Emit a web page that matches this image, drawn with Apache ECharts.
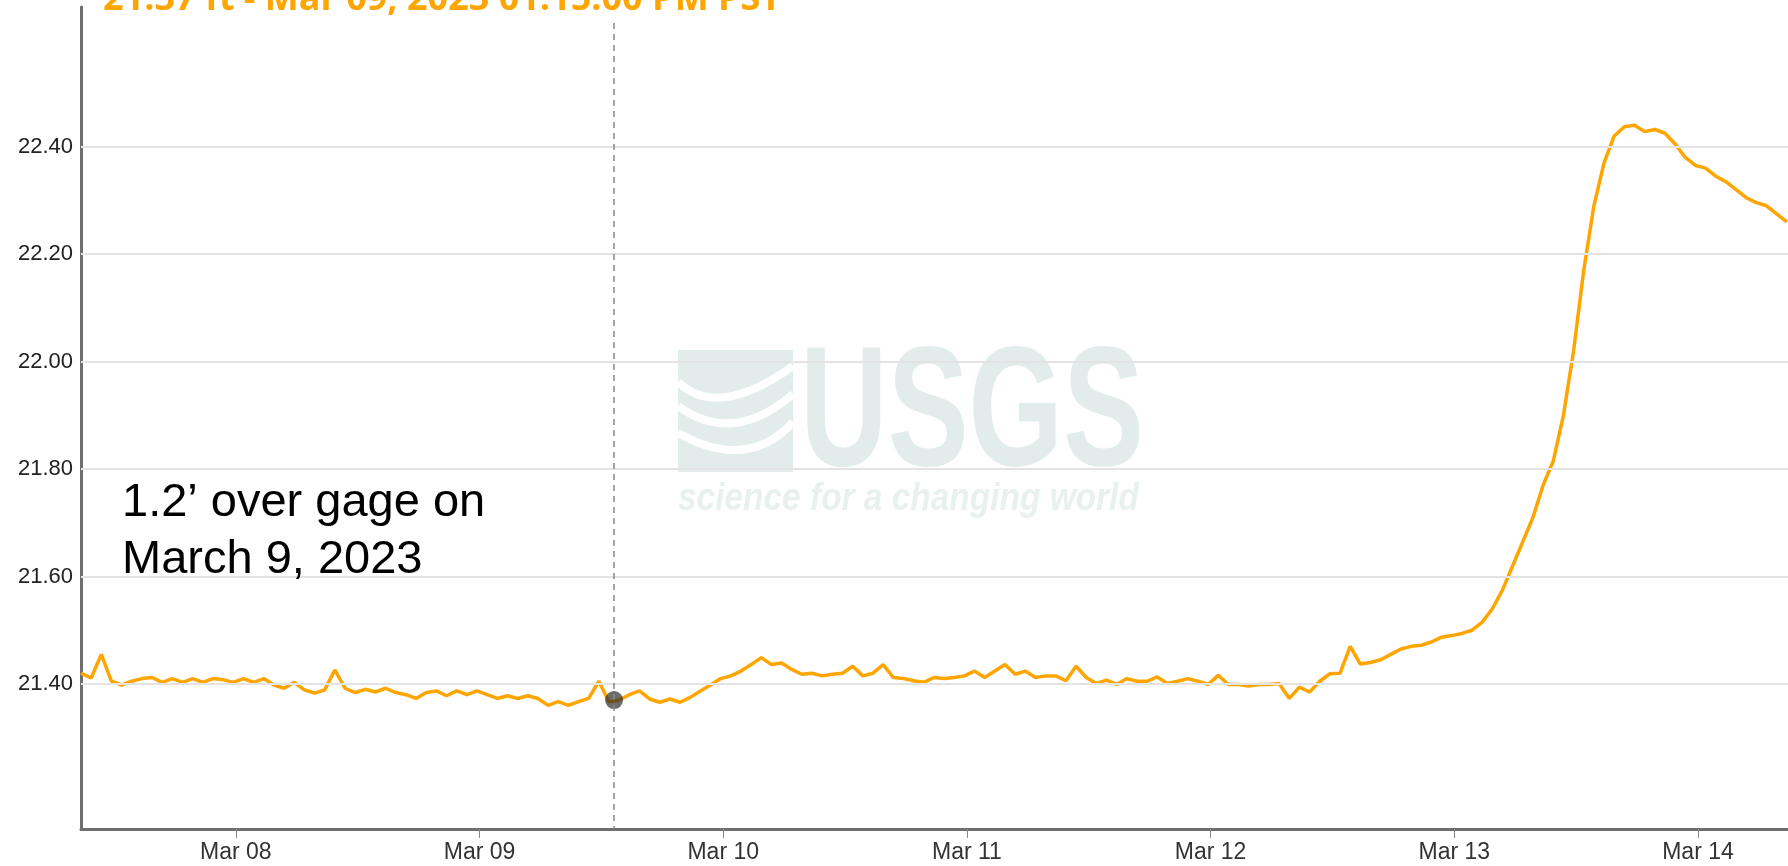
<!DOCTYPE html>
<html>
<head>
<meta charset="utf-8">
<title>Gage height - Mar 2023</title>
<script src="https://cdn.jsdelivr.net/npm/echarts@6/dist/echarts.min.js"></script>
<style>
  html, body { margin: 0; padding: 0; background: #fff; }
  #chart { width: 1788px; height: 866px; }
</style>
</head>
<body>
<div id="chart"></div>
<script>
// readings, one per hour starting Mar 07 2023 08:45 (local)
const startTime = new Date(2023, 2, 7, 8, 45).getTime();
const stepMs = 3600 * 1000;
const stageFt = [
  21.420, 21.411, 21.455, 21.405, 21.398, 21.405, 21.410, 21.412, 21.403, 21.410,
  21.403, 21.410, 21.403, 21.410, 21.408, 21.403, 21.410, 21.403, 21.410, 21.398,
  21.392, 21.403, 21.389, 21.383, 21.389, 21.426, 21.392, 21.384, 21.390, 21.385,
  21.392, 21.384, 21.380, 21.373, 21.384, 21.387, 21.378, 21.387, 21.380, 21.387,
  21.380, 21.373, 21.378, 21.373, 21.378, 21.373, 21.360, 21.367, 21.360, 21.367,
  21.373, 21.405, 21.367, 21.370, 21.380, 21.387, 21.372, 21.366, 21.372, 21.366,
  21.375, 21.387, 21.398, 21.410, 21.415, 21.424, 21.436, 21.449, 21.436, 21.439,
  21.427, 21.418, 21.420, 21.415, 21.418, 21.420, 21.433, 21.415, 21.420, 21.436,
  21.412, 21.410, 21.406, 21.403, 21.412, 21.410, 21.412, 21.415, 21.424, 21.412,
  21.424, 21.436, 21.418, 21.424, 21.412, 21.415, 21.415, 21.406, 21.433, 21.412,
  21.401, 21.407, 21.399, 21.410, 21.405, 21.405, 21.413, 21.401, 21.405, 21.410,
  21.405, 21.399, 21.416, 21.399, 21.399, 21.396, 21.399, 21.399, 21.401, 21.373,
  21.394, 21.385, 21.405, 21.419, 21.420, 21.470, 21.437, 21.440, 21.445, 21.455,
  21.465, 21.470, 21.472, 21.478, 21.487, 21.490, 21.494, 21.500, 21.515, 21.540,
  21.575, 21.620, 21.665, 21.710, 21.770, 21.815, 21.900, 22.020, 22.170, 22.290,
  22.370, 22.420, 22.437, 22.440, 22.428, 22.432, 22.425, 22.405, 22.380, 22.365,
  22.360, 22.345, 22.335, 22.320, 22.305, 22.296, 22.290, 22.275, 22.260
];
const yTicks = [21.4, 21.6, 21.8, 22.0, 22.2, 22.4];
const cursorTime = new Date(2023, 2, 9, 13, 15).getTime();
const cursorValue = 21.37;
const titleText = '21.37 ft - Mar 09, 2023 01:15:00 PM PST';
const noteText = '1.2\u2019 over gage on\nMarch 9, 2023';

const axisStart = startTime;
const axisEnd = new Date(2023, 2, 14, 8, 52).getTime();
const DAY = 24 * 3600 * 1000;

const stageData = stageFt.map((v, i) => [startTime + i * stepMs, v]);

const chart = echarts.init(document.getElementById('chart'));
const wm = '#e2ecea';

const gridLines = yTicks.map(v => ({
  yAxis: v,
  lineStyle: { color: '#e3e3e3', width: 2, type: 'solid' },
  label: {
    show: true,
    position: 'start',
    distance: 8,
    formatter: v.toFixed(2),
    color: '#222',
    fontSize: 22,
    fontFamily: 'Liberation Sans'
  }
}));

const option = {
  animation: false,
  backgroundColor: '#fff',
  grid: { left: 81, right: 0, top: 7, bottom: 37 },
  xAxis: {
    type: 'time',
    min: axisStart,
    max: axisEnd,
    minInterval: DAY,
    maxInterval: DAY,
    axisLine: { lineStyle: { color: '#6e6e6e', width: 3 } },
    axisTick: { show: true, length: 9, lineStyle: { color: '#888', width: 1 } },
    axisLabel: {
      formatter: '{MMM} {dd}',
      color: '#333',
      fontSize: 23,
      fontFamily: 'Liberation Sans',
      margin: 12,
      showMinLabel: false,
      showMaxLabel: false
    },
    splitLine: { show: false }
  },
  yAxis: {
    type: 'value',
    min: 21.13,
    max: 22.66,
    axisLine: { show: true, lineStyle: { color: '#6e6e6e', width: 3 } },
    axisTick: { show: false },
    axisLabel: { show: false },
    splitLine: { show: false }
  },
  graphic: [
    // USGS watermark
    { type: 'rect', shape: { x: 678, y: 350, width: 115, height: 122 }, style: { fill: wm }, z: 0 },
    { type: 'bezierCurve', shape: { x1: 678, y1: 382, cpx1: 718, cpy1: 420, x2: 793, y2: 366 }, style: { stroke: '#fff', lineWidth: 8, fill: null }, z: 0 },
    { type: 'bezierCurve', shape: { x1: 678, y1: 406, cpx1: 733, cpy1: 446, x2: 793, y2: 394 }, style: { stroke: '#fff', lineWidth: 8, fill: null }, z: 0 },
    { type: 'bezierCurve', shape: { x1: 678, y1: 433, cpx1: 748, cpy1: 472, x2: 793, y2: 422 }, style: { stroke: '#fff', lineWidth: 8, fill: null }, z: 0 },
    {
      type: 'text', x: 800, y: 418, scaleX: 0.714, z: 0,
      style: { text: 'USGS', fill: wm, font: 'bold 170px "Liberation Sans"', verticalAlign: 'middle', align: 'left' }
    },
    {
      type: 'text', x: 678, y: 500, scaleX: 0.88, z: 0,
      style: { text: 'science for a changing world', fill: '#e9f1ef', font: 'italic bold 38px "Liberation Sans"', verticalAlign: 'middle', align: 'left' }
    },
    // cut-off header
    {
      type: 'text', x: 103, y: 0, z: 10,
      style: { text: titleText, fill: '#ffa500', font: 'bold 36px "Open Sans"', verticalAlign: 'middle', align: 'left' }
    },
    // annotation
    {
      type: 'text', x: 122, y: 475, z: 10,
      style: { text: noteText, fill: '#000', font: '47px "Liberation Sans"', lineHeight: 57, verticalAlign: 'top', align: 'left' }
    }
  ],
  series: [
    {
      name: 'grid',
      type: 'line',
      data: [],
      z: 1,
      silent: true,
      markLine: {
        silent: true,
        symbol: ['none', 'none'],
        animation: false,
        data: gridLines.concat([[
          { xAxis: cursorTime, yAxis: 22.63, lineStyle: { color: '#888', width: 1.5, type: [6, 5] }, label: { show: false } },
          { xAxis: cursorTime, yAxis: 21.13 }
        ]])
      }
    },
    {
      name: 'Gage height',
      type: 'line',
      data: stageData,
      showSymbol: false,
      z: 3,
      lineStyle: { color: '#ffa500', width: 3.5 },
      itemStyle: { color: '#ffa500' }
    },
    {
      name: 'cursor',
      type: 'scatter',
      data: [[cursorTime, cursorValue]],
      symbolSize: 18,
      z: 4,
      itemStyle: { color: 'rgba(40,40,40,0.85)' }
    }
  ]
};

chart.setOption(option);
</script>
</body>
</html>
